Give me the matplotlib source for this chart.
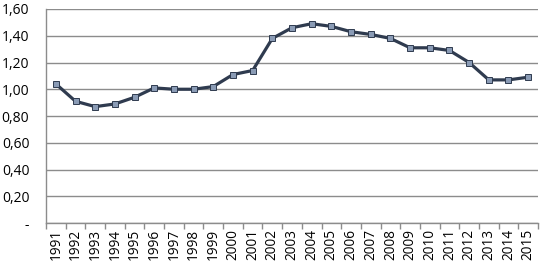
import matplotlib
matplotlib.use("Agg")
import matplotlib.pyplot as plt
import numpy as np

years = [str(y) for y in range(1991, 2016)]
values = [1.04, 0.91, 0.87, 0.89, 0.94, 1.01, 1.00, 1.00, 1.02, 1.11, 1.14, 1.38,
          1.46, 1.49, 1.47, 1.43, 1.41, 1.38, 1.31, 1.31, 1.29, 1.20, 1.07, 1.07, 1.09]
yticks = [0, 0.2, 0.4, 0.6, 0.8, 1.0, 1.2, 1.4, 1.6]
ytick_labels = ["-", "0,20", "0,40", "0,60", "0,80", "1,00", "1,20", "1,40", "1,60"]

plt.rcParams['font.family'] = ['Open Sans', 'DejaVu Sans']

fig = plt.figure(figsize=(5.44, 2.70), dpi=100)
ax = fig.add_axes([46/544, 1-223/270, (538-46)/544, (223-9)/270])

x = np.arange(len(years))
ax.plot(x, values, color="#2f3b4f", lw=2.3, marker="s", markersize=4.2,
        markerfacecolor="#8a9bb5", markeredgecolor="#2f3b4f", markeredgewidth=0.7,
        solid_joinstyle="round", zorder=3)

ax.set_xlim(-0.5, len(years) - 0.5)
ax.set_ylim(0, 1.6)
ax.set_yticks(yticks)
ax.set_yticklabels(ytick_labels, fontsize=10)
ax.yaxis.grid(True, color="#8c8c8c", lw=1)
ax.set_axisbelow(True)
ax.tick_params(axis="y", length=0, pad=12)

ax.set_xticks(x)
ax.set_xticklabels(years, rotation=90, fontsize=9.8)
ax.tick_params(axis="x", length=0, pad=4)
ax.set_xticks(np.arange(-0.5, len(years)), minor=True)
ax.tick_params(axis="x", which="minor", length=4, color="#8c8c8c", width=1)

for s in ["top", "right"]:
    ax.spines[s].set_visible(False)
for s in ["left", "bottom"]:
    ax.spines[s].set_color("#8c8c8c")
    ax.spines[s].set_linewidth(1)

fig.savefig("out.png", dpi=100)
